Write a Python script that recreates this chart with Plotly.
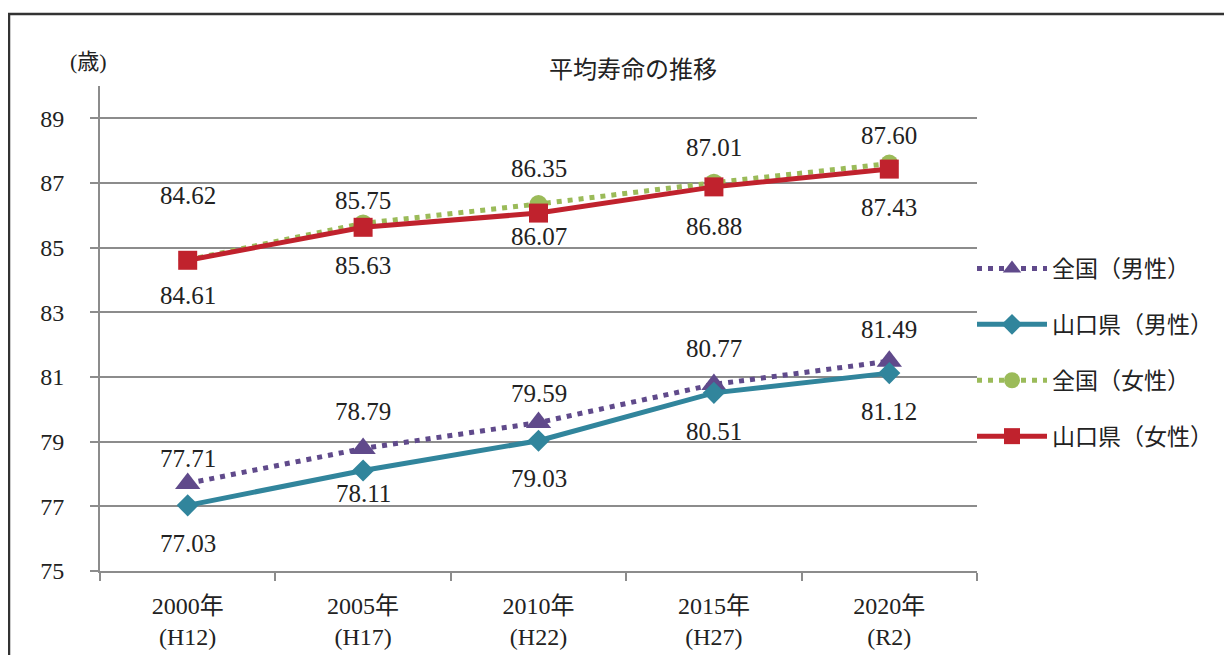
import plotly.graph_objects as go

# ---- data ----
categories = ["2000年<br>(H12)", "2005年<br>(H17)", "2010年<br>(H22)", "2015年<br>(H27)", "2020年<br>(R2)"]
series_names = ["全国（男性）", "山口県（男性）", "全国（女性）", "山口県（女性）"]
national_male = [77.71, 78.79, 79.59, 80.77, 81.49]
yamaguchi_male = [77.03, 78.11, 79.03, 80.51, 81.12]
national_female = [84.62, 85.75, 86.35, 87.01, 87.60]
yamaguchi_female = [84.61, 85.63, 86.07, 86.88, 87.43]
y_ticks = [75, 77, 79, 81, 83, 85, 87, 89]

# ---- styles (kept separate from data) ----
colors = ["#604A8B", "#31859C", "#9BBB59", "#C0222D"]
symbols = ["triangle-up", "diamond", "circle", "square"]
msizes = [22, 17, 18, 19]
dashes = ["5px,6px", "solid", "5px,6px", "solid"]
label_shift = [
    [25, 37, 29, 36, 32],
    [-38, -23, -38, -39, -38],
    [64, 23, 36, 35, 28],
    [-35, -38, -23, -40, -38],
]

NUM_FONT = "Liberation Serif, 'Noto Sans CJK JP', serif"
JP_FONT = "'Noto Sans CJK JP', sans-serif"
TXT = "#222222"
GRID = "#8c8c8c"

# page body has an 8px margin; reference pixel positions are shifted by it
OFF = 8
W, H = 1232, 655
L, R, T, B = 100 - OFF, 977 - OFF, 86 - OFF, 571 - OFF


def px_x(px):
    return (px - OFF - L) / (R - L)


def px_y(py):
    return (B - (py - OFF)) / (B - T)


all_series = [national_male, yamaguchi_male, national_female, yamaguchi_female]

fig = go.Figure()
for i, (name, vals) in enumerate(zip(series_names, all_series)):
    fig.add_trace(go.Scatter(
        x=categories, y=vals, name=name, mode="lines+markers",
        line=dict(color=colors[i], width=5, dash=dashes[i]),
        marker=dict(symbol=symbols[i], size=msizes[i], color=colors[i], line=dict(width=0)),
        legendgroup=f"g{i}",
        cliponaxis=False,
    ))

annotations = []
for i, vals in enumerate(all_series):
    for j, v in enumerate(vals):
        annotations.append(dict(
            x=categories[j], y=v, xref="x", yref="y", text=f"{v:.2f}",
            showarrow=False, yshift=label_shift[i][j], yanchor="middle",
            font=dict(family=NUM_FONT, size=25, color=TXT),
        ))

annotations.append(dict(
    x=px_x(88), y=px_y(62), xref="paper", yref="paper", text="(歳)", showarrow=False,
    xanchor="center", yanchor="middle",
    font=dict(family=NUM_FONT, size=22, color=TXT),
))

fig.update_layout(
    width=W, height=H,
    margin=dict(l=L, r=W - R, t=T, b=H - B, autoexpand=False),
    paper_bgcolor="white", plot_bgcolor="white",
    title=dict(text="平均寿命の推移", x=(633 - OFF) / W, xref="container",
               y=1 - (70 - OFF) / H, yref="container", xanchor="center", yanchor="middle",
               font=dict(family=JP_FONT, size=24, color=TXT)),
    showlegend=True,
    legend=dict(x=px_x(972), y=px_y(247), xanchor="left", yanchor="top",
                font=dict(family=JP_FONT, size=23, color=TXT),
                tracegroupgap=23, itemwidth=70, bgcolor="rgba(0,0,0,0)"),
    annotations=annotations,
    shapes=[dict(type="rect", xref="paper", yref="paper",
                 x0=px_x(9), x1=px_x(1270),
                 y0=px_y(690), y1=px_y(14),
                 line=dict(color="#333333", width=2.5), layer="above")],
)

fig.update_xaxes(
    type="category", range=[-0.5, 4.5], showgrid=False,
    showline=True, linecolor=GRID, linewidth=2,
    ticks="outside", tickson="boundaries", ticklen=8, tickwidth=2, tickcolor=GRID,
    tickfont=dict(family=NUM_FONT, size=24, color=TXT), ticklabelstandoff=12,
)
fig.update_yaxes(
    range=[75, 90], tickvals=y_ticks, showgrid=True, gridcolor=GRID, gridwidth=2,
    showline=True, linecolor=GRID, linewidth=2, zeroline=False,
    ticks="outside", ticklen=8, tickwidth=2, tickcolor=GRID,
    tickfont=dict(family=NUM_FONT, size=24, color=TXT), ticklabelstandoff=21,
)

fig.write_html("out.html")
